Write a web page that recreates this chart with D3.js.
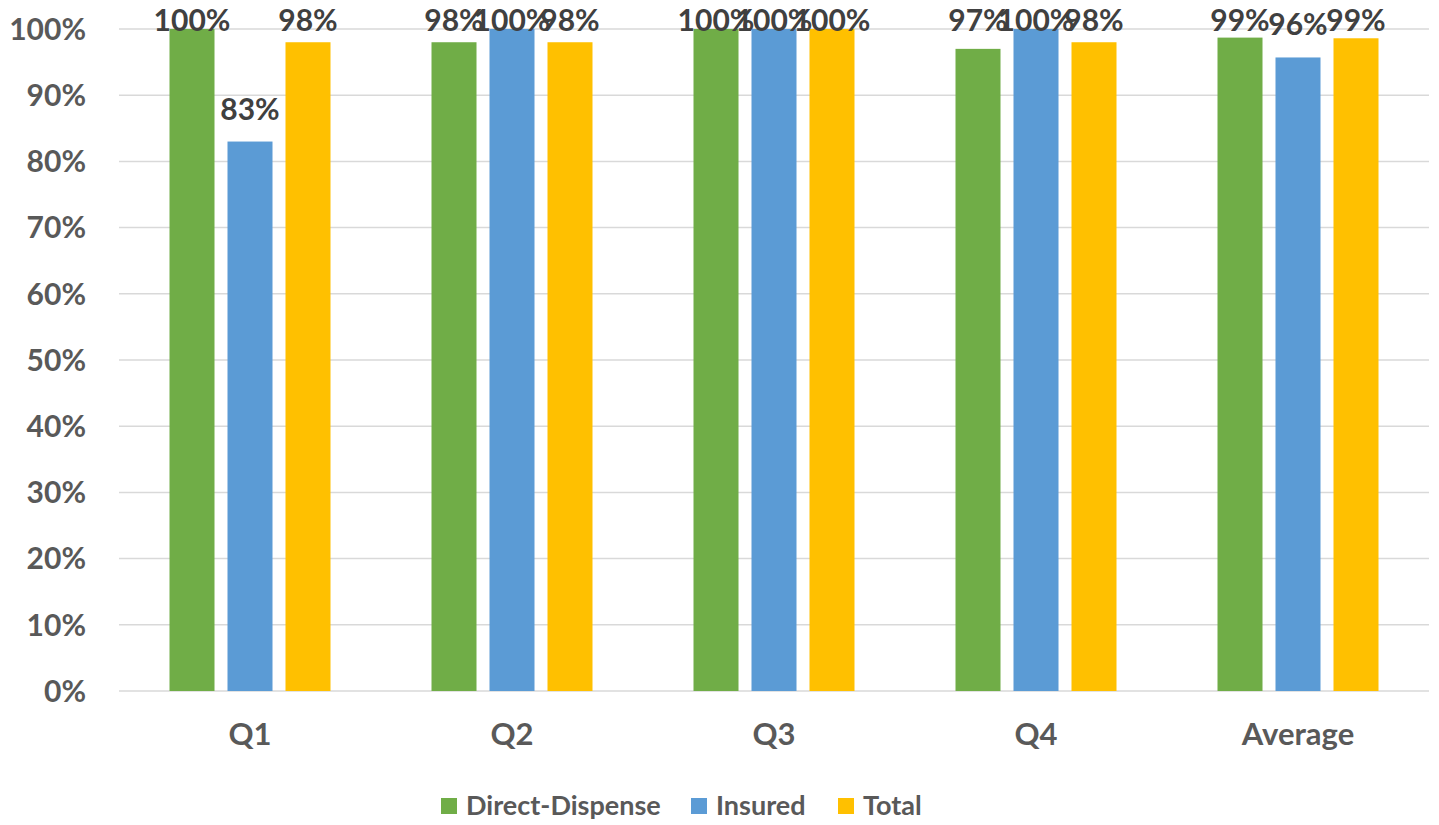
<!DOCTYPE html>
<html><head><meta charset="utf-8">
<script src="https://cdn.jsdelivr.net/npm/d3@7"></script>
<style>
html,body{margin:0;padding:0;background:#fff;}
svg{display:block;font-family:Lato,"Open Sans",sans-serif;font-weight:700;}
</style></head>
<body>
<svg id="c" width="1439" height="825"></svg>
<script>
const categories = ["Q1","Q2","Q3","Q4","Average"];
const seriesNames = ["Direct-Dispense","Insured","Total"];
const directDispense = [100, 98, 100, 97, 98.7];
const insured = [83, 100, 100, 100, 95.7];
const total = [98, 98, 100, 98, 98.6];
const yTicks = [0,10,20,30,40,50,60,70,80,90,100];
const colors = ["#70ad47","#5b9bd5","#ffc000"];

(function(){
const seriesValues = [directDispense, insured, total];
const svg = d3.select("#c");
const pl = 119, pr = 1429, pt = 29, pb = 691;

const x0 = d3.scaleBand().domain(categories).range([pl, pr]).padding(0);
const groupW = 161;
const x1 = d3.scaleBand().domain(seriesNames)
  .range([(x0.bandwidth()-groupW)/2, (x0.bandwidth()+groupW)/2])
  .paddingInner(0.224).paddingOuter(0);
const y = d3.scaleLinear().domain([0,100]).range([pb, pt]);

svg.append("g").selectAll("line").data(yTicks).join("line")
  .attr("x1", pl).attr("x2", pr)
  .attr("y1", d => y(d)).attr("y2", d => y(d))
  .attr("stroke", "#d9d9d9").attr("stroke-width", 1.5);

svg.append("g").selectAll("text").data(yTicks).join("text")
  .attr("x", 86).attr("y", d => y(d)).attr("dy", "0.36em")
  .attr("text-anchor", "end").attr("fill", "#595959")
  .attr("font-size", 30).text(d => d + "%");

const groups = svg.append("g").selectAll("g").data(categories).join("g")
  .attr("transform", d => `translate(${x0(d)},0)`);

groups.each(function(cat, ci) {
  const g = d3.select(this);
  seriesNames.forEach((s, si) => {
    const v = seriesValues[si][ci];
    g.append("rect")
      .attr("x", x1(s)).attr("width", x1.bandwidth())
      .attr("y", y(v)).attr("height", y(0) - y(v))
      .attr("fill", colors[si]);
  });
});
groups.each(function(cat, ci) {
  const g = d3.select(this);
  seriesNames.forEach((s, si) => {
    const v = seriesValues[si][ci];
    g.append("text")
      .attr("x", x1(s) + x1.bandwidth()/2)
      .attr("y", Math.max(y(v) - 22, pt + 2))
      .attr("text-anchor", "middle").attr("fill", "#404040")
      .attr("font-size", 30).text(Math.round(v) + "%");
  });
});

svg.append("g").selectAll("text").data(categories).join("text")
  .attr("x", d => x0(d) + x0.bandwidth()/2).attr("y", 745)
  .attr("text-anchor", "middle").attr("fill", "#595959")
  .attr("font-size", 31).text(d => d);

const legendX = [441, 691, 838];
const lg = svg.append("g").selectAll("g").data(seriesNames).join("g")
  .attr("transform", (d,i) => `translate(${legendX[i]},0)`);
lg.append("rect").attr("x", 0).attr("y", 798).attr("width", 16).attr("height", 16)
  .attr("fill", (d,i) => colors[i]);
lg.append("text").attr("x", 25).attr("y", 815).attr("fill", "#595959")
  .attr("font-size", 27).text(d => d);
})();
</script>
</body></html>
